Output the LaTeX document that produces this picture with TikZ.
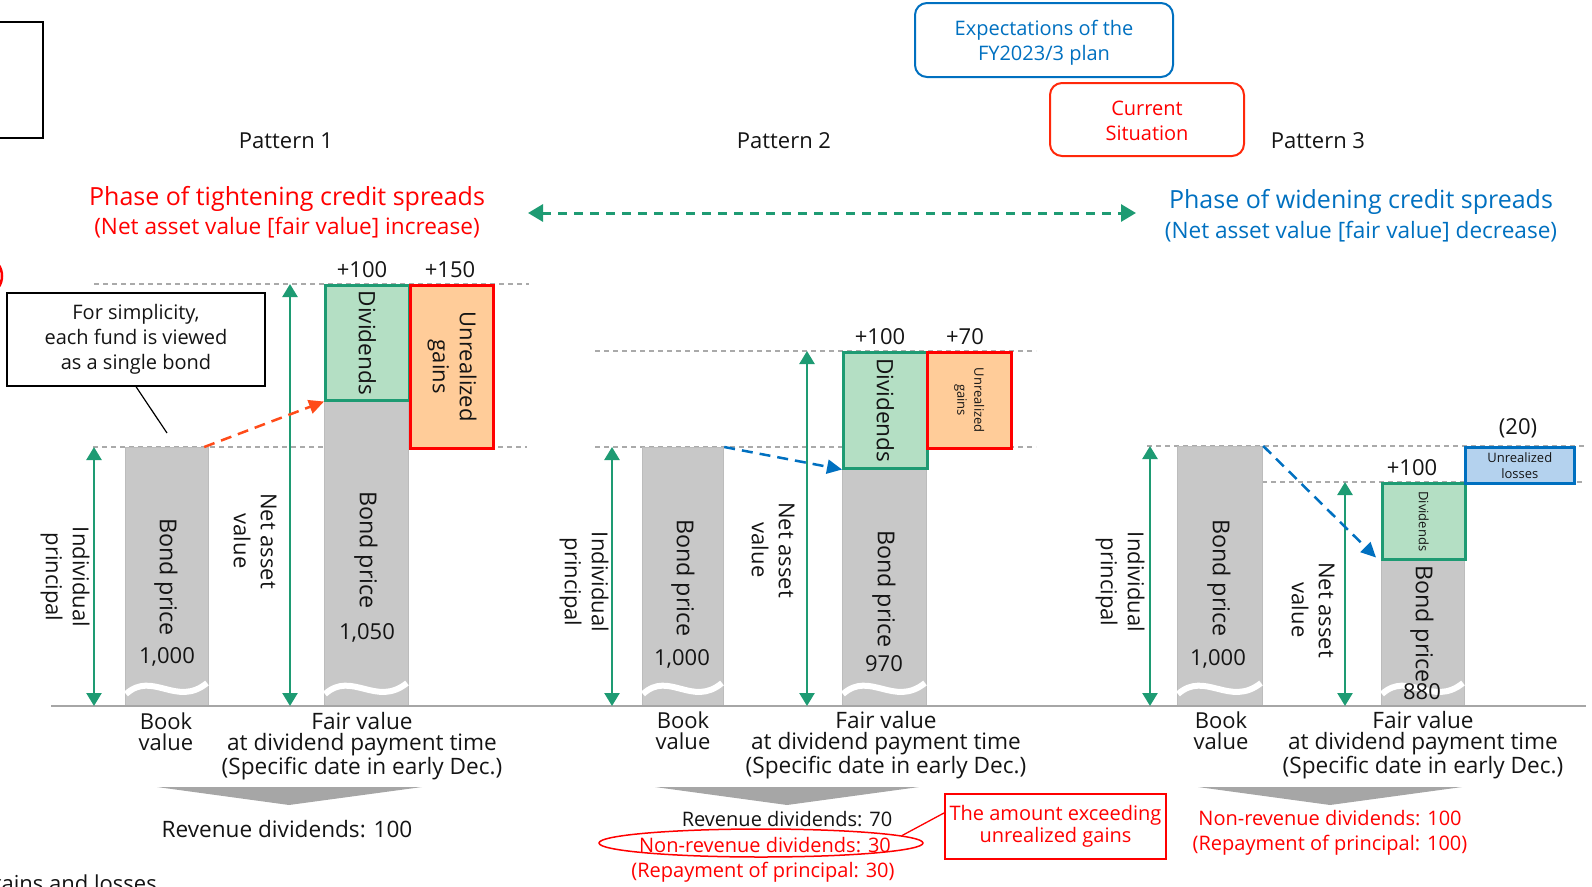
\documentclass[tikz,border=0pt]{standalone}
\usepackage{fontspec}
\setmainfont{Open Sans}
\usetikzlibrary{arrows.meta,shapes.geometric}
\definecolor{grn}{RGB}{30,155,115}
\definecolor{divfill}{RGB}{180,223,196}
\definecolor{orgfill}{RGB}{255,204,153}
\definecolor{barfill}{RGB}{200,200,200}
\definecolor{barline}{RGB}{188,188,188}
\definecolor{blu}{RGB}{0,112,192}
\definecolor{blufill}{RGB}{180,210,238}
\definecolor{rd}{RGB}{255,0,0}
\definecolor{rdo}{RGB}{255,40,10}
\definecolor{orarrow}{RGB}{255,75,25}
\definecolor{trigray}{RGB}{166,166,166}
\definecolor{dgray}{RGB}{170,170,170}
\definecolor{txt}{RGB}{20,20,20}
\newcommand{\fsz}[2]{\fontsize{#1}{#2}\selectfont}
\tikzset{
  graybar/.style={draw=barline, fill=barfill, line width=1.2pt, inner sep=0, anchor=north west},
  divbox/.style={draw=grn, fill=divfill, line width=2.5pt, inner sep=0, anchor=north west, text=txt, align=center},
  gainbox/.style={draw=rd, fill=orgfill, line width=2.5pt, inner sep=0, anchor=north west, text=txt, align=center},
  lossbox/.style={draw=blu, fill=blufill, line width=2.5pt, inner sep=0, anchor=north west, text=txt, align=center},
  dimarrow/.style={grn, line width=2.5pt, {Triangle[width=15pt,length=13pt]}-{Triangle[width=15pt,length=13pt]}},
  guide/.style={dgray, line width=1.2pt, dash pattern=on 5pt off 4pt},
  wave/.style={white, line width=6pt},
  lbl/.style={text=txt, font=\fsz{22}{26}, align=center, inner sep=0},
  vlbl/.style={lbl, rotate=-90, font=\fsz{22}{27}},
  bplbl/.style={lbl, rotate=-90, font=\fsz{23.3}{27}},
  bluearrow/.style={blu, line width=2.5pt, dash pattern=on 11pt off 7pt, -{Triangle[width=14pt,length=15pt]}},
  orgarrow/.style={orarrow, line width=2.5pt, dash pattern=on 11pt off 7pt, -{Triangle[width=14pt,length=15pt]}},
  redtxt/.style={lbl, text=rd, font=\fsz{20}{24}},
  botlbl/.style={lbl, font=\fsz{22.6}{21.2}},
}
\begin{document}
\begin{tikzpicture}[x=1pt,y=-1pt]
\useasboundingbox (0,0) rectangle (1592,886);

% cut-off elements at left edge
\node[draw=black, line width=2pt, minimum width=70pt, minimum height=116pt, inner sep=0] (tlbox) at (8,80) {};
\node[ellipse, draw=rd, line width=2.5pt, minimum width=24pt, minimum height=32pt, inner sep=0] (redmark) at (-10,276) {};
\node[lbl, anchor=base east] (gl) at (157,891) {gains and losses};

% top boxes
\node[draw=blu, rounded corners=12pt, line width=2pt, minimum width=258pt, minimum height=74pt, inner sep=0] (exp) at (1044,40) {};
\node[text=blu, font=\fsz{20}{25}, align=center, inner sep=0] (expt) at (1044,43) {Expectations of the\\FY2023/3 plan};
\node[draw=rdo, rounded corners=12pt, line width=2pt, minimum width=194pt, minimum height=73pt, inner sep=0] (cur) at (1147,119.5) {};
\node[text=rd, font=\fsz{20}{25}, align=center, inner sep=0] (curt) at (1147,121) {Current\\Situation};

% pattern titles
\node[lbl] (p1) at (286,140.5) {Pattern 1};
\node[lbl] (p2) at (784,140.5) {Pattern 2};
\node[lbl] (p3) at (1318,140.5) {Pattern 3};

\node[lbl, text=rd, font=\fsz{25}{30}] (ph1) at (287,199) {Phase of tightening credit spreads};
\node[lbl, text=rd, font=\fsz{22.6}{26}] (ph1b) at (287,227.5) {(Net asset value [fair value] increase)};
\node[lbl, text=blu, font=\fsz{25}{30}] (ph3) at (1361,202) {Phase of widening credit spreads};
\node[lbl, text=blu, font=\fsz{22.6}{26}] (ph3b) at (1361,232) {(Net asset value [fair value] decrease)};

\coordinate (ga) at (528,213);
\coordinate (gb) at (1136,213);
\draw[grn, line width=3pt, dash pattern=on 9pt off 7pt, {Triangle[width=17pt,length=15pt]}-{Triangle[width=17pt,length=15pt]}] (ga) -- (gb);

% guides
\draw[guide] (94,284) -- (529,284);
\draw[guide] (93,447) -- (527,447);
\draw[guide] (595,351) -- (1036,351);
\draw[guide] (595,447) -- (1036,447);
\draw[guide] (1147,446) -- (1584,446);
\draw[guide] (1262,482) -- (1585,482);

% ---------- Pattern 1 ----------
\node[graybar, minimum width=83pt, minimum height=259pt] (b1) at (125,447) {};
\node[graybar, minimum width=84pt, minimum height=307pt] (f1) at (324,399) {};
\node[divbox, minimum width=84pt, minimum height=115pt] (d1) at (324,284) {\rotatebox{-90}{\fsz{22.6}{26}Dividends}};
\node[gainbox, minimum width=83pt, minimum height=163pt] (u1) at (409,284) {\rotatebox{-90}{\fsz{22}{27}\begin{tabular}{@{}c@{}}Unrealized\\gains\end{tabular}}};

% ---------- Pattern 2 ----------
\node[graybar, minimum width=81pt, minimum height=259pt] (b2) at (642,447) {};
\node[graybar, minimum width=84pt, minimum height=239pt] (f2) at (842,467) {};
\node[divbox, minimum width=84pt, minimum height=116pt] (d2) at (842,351) {\rotatebox{-90}{\fsz{22.6}{26}Dividends}};
\node[gainbox, minimum width=84pt, minimum height=96pt] (u2) at (926,351) {\rotatebox{-90}{\fsz{13}{17}\begin{tabular}{@{}c@{}}Unrealized\\gains\end{tabular}}};

% ---------- Pattern 3 ----------
\node[graybar, minimum width=85pt, minimum height=260pt] (b3) at (1177,446) {};
\node[graybar, minimum width=83pt, minimum height=148pt] (f3) at (1381,558) {};
\node[divbox, minimum width=83pt, minimum height=76pt] (d3) at (1381,482) {\rotatebox{-90}{\fsz{13}{16}Dividends}};
\node[lossbox, minimum width=109pt, minimum height=36pt, font=\fsz{13}{16}] (l3) at (1464,446) {Unrealized\\losses};

% waves
\foreach \L/\W in {125/83, 324/84, 642/81, 842/84, 1177/85, 1381/83}{
  \draw[wave] (\L+1,694) .. controls (\L+0.33*\W,670) and (\L+0.62*\W,708) .. (\L+\W-1,683);
}

% baseline
\coordinate (axl) at (51,706);
\coordinate (axr) at (1586,706);
\draw[trigray, line width=2.2pt] (axl) -- (axr);

% texts pattern 1
\node[bplbl] (bp1) at (166,577) {Bond price};
\node[lbl] (v1) at (167,657) {1,000};
\node[bplbl] (fp1) at (366,550) {Bond price};
\node[lbl] (v1f) at (367,633) {1,050};
\node[vlbl] (ip1l) at (65,577) {Individual\\principal};
\node[vlbl] (na1l) at (255,541) {Net asset\\value};
\node[lbl] (pl1a) at (362,270) {+100};
\node[lbl] (pl1b) at (450,270) {+150};

% texts pattern 2
\node[bplbl] (bp2) at (683,578) {Bond price};
\node[lbl] (v2) at (682,659) {1,000};
\node[bplbl] (fp2) at (884,589) {Bond price};
\node[lbl] (v2f) at (884,664) {970};
\node[vlbl] (ip2l) at (584,582) {Individual\\principal};
\node[vlbl] (na2l) at (773,550) {Net asset\\value};
\node[lbl] (pl2a) at (880,337) {+100};
\node[lbl] (pl2b) at (965,337) {+70};

% texts pattern 3
\node[bplbl] (bp3) at (1219,578) {Bond price};
\node[lbl] (v3) at (1218,659) {1,000};
\node[bplbl] (fp3) at (1422,624) {Bond price};
\node[lbl] (v3f) at (1422,692) {880};
\node[vlbl] (ip3l) at (1120,582) {Individual\\principal};
\node[vlbl] (na3l) at (1313,610) {Net asset\\value};
\node[lbl] (pl3a) at (1412,468) {+100};
\node[lbl] (pl3b) at (1518,428) {(20)};

% dimension arrows
\coordinate (ip1t) at (94,447); \coordinate (ip1b) at (94,706);
\coordinate (na1t) at (290,284); \coordinate (na1b) at (290,706);
\coordinate (ip2t) at (612,447); \coordinate (ip2b) at (612,706);
\coordinate (na2t) at (807,351); \coordinate (na2b) at (807,706);
\coordinate (ip3t) at (1150,446); \coordinate (ip3b) at (1150,706);
\coordinate (na3t) at (1345,482); \coordinate (na3b) at (1345,706);
\draw[dimarrow] (ip1t) -- (ip1b);
\draw[dimarrow] (na1t) -- (na1b);
\draw[dimarrow] (ip2t) -- (ip2b);
\draw[dimarrow] (na2t) -- (na2b);
\draw[dimarrow] (ip3t) -- (ip3b);
\draw[dimarrow] (na3t) -- (na3b);

% dashed arrows
\draw[orgarrow] ([xshift=-5pt]b1.north east) -- (d1.south west);
\draw[bluearrow] (b2.north east) -- (d2.south west);
\draw[bluearrow] (b3.north east) -- ([xshift=-5pt,yshift=3pt]d3.south west);

% callout
\node[draw=black, line width=1.3pt, minimum width=258pt, minimum height=93pt, font=\fsz{20}{25}, align=center, inner sep=0, text=txt] (call) at (136,339.5) {For simplicity,\\each fund is viewed\\as a single bond};
\coordinate (callpt) at (167,433);
\draw[line width=1.2pt] (call.south) -- (callpt);

% bottom labels
\node[lbl, font=\fsz{22}{21}] (bk1) at (166,732) {Book\\value};
\node[botlbl] (fv1) at (362,746) {Fair value\\at dividend payment time\\(Specific date in early Dec.)};
\node[lbl, font=\fsz{22}{21}] (bk2) at (683,731) {Book\\value};
\node[botlbl] (fv2) at (886,745) {Fair value\\at dividend payment time\\(Specific date in early Dec.)};
\node[lbl, font=\fsz{22}{21}] (bk3) at (1221,731) {Book\\value};
\node[botlbl] (fv3) at (1423,745) {Fair value\\at dividend payment time\\(Specific date in early Dec.)};

% triangles
\fill[trigray] (157,787) -- (422,787) -- (289,805) -- cycle;
\fill[trigray] (655,787) -- (919,787) -- (787,805) -- cycle;
\fill[trigray] (1198,787) -- (1462,787) -- (1330,805) -- cycle;

% results
\node[lbl, font=\fsz{22.6}{26}] (r1) at (287,829) {Revenue dividends: 100};
\node[lbl, font=\fsz{20}{24}] (r2) at (787,819) {Revenue dividends: 70};
\node[redtxt] (r2b) at (765,845) {Non-revenue dividends: 30};
\node[redtxt] (r2c) at (763,872) {(Repayment of principal: 30)};
\node[ellipse, draw=rd, line width=1.5pt, minimum width=324pt, minimum height=28pt, inner sep=0] (e2) at (761,843) {};
\node[draw=rd, line width=1.5pt, minimum width=221pt, minimum height=65pt, text=rd, font=\fsz{20}{22}, align=center, inner sep=0] (x2) at (1055.5,826.5) {The amount exceeding\\unrealized gains};
\draw[rd, line width=1.3pt] (e2.3) -- (x2.173);
\node[redtxt] (r3) at (1330,818) {Non-revenue dividends: 100};
\node[redtxt] (r3b) at (1330,845) {(Repayment of principal: 100)};
\end{tikzpicture}
\end{document}
